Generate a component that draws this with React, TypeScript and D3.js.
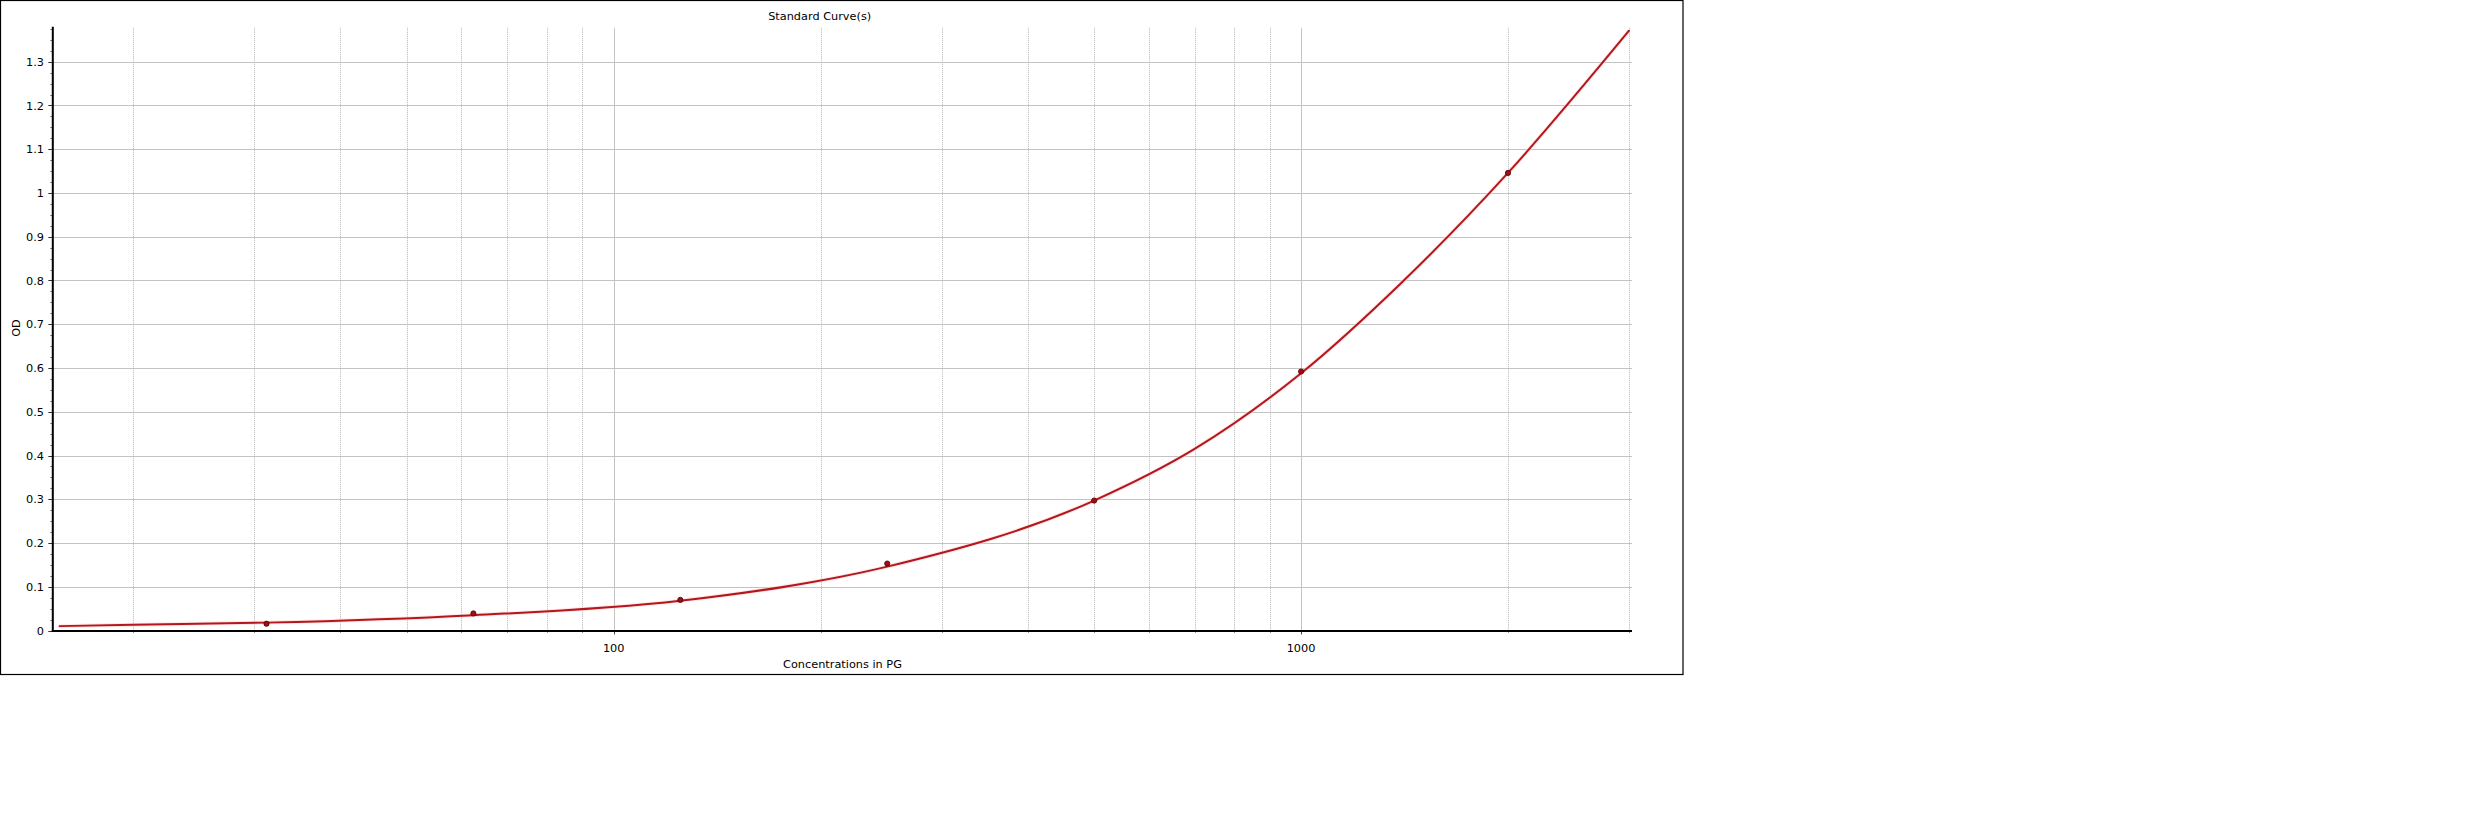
import React from "react";
import * as d3 from "d3";

// Standards (measured points)
const concentrations = [31.25, 62.5, 125, 250, 500, 1000, 2000];
const odValues = [0.0155, 0.039, 0.07, 0.153, 0.297, 0.592, 1.046];

// Fitted standard curve
const curveConc = [15.625, 20, 31.25, 62.5, 125, 250, 500, 700, 1000, 1400, 2000, 3000];
const curveOD = [0.01, 0.013, 0.018, 0.035, 0.068, 0.146, 0.297, 0.415, 0.588, 0.795, 1.046, 1.371];

// Axes
const yTicks = [0, 0.1, 0.2, 0.3, 0.4, 0.5, 0.6, 0.7, 0.8, 0.9, 1, 1.1, 1.2, 1.3];
const xTickLabels = [100, 1000];
const xGrid = [20, 30, 40, 50, 60, 70, 80, 90, 100, 200, 300, 400, 500, 600, 700, 800, 900, 1000, 2000, 3000];
const xMajor = [100, 1000];

const title = "Standard Curve(s)";
const xTitle = "Concentrations in PG";
const yTitle = "OD";

const W = 2468;
const H = 824;
const FONT = "'DejaVu Sans', Verdana, sans-serif";
const FS = 11.3;

export default function App() {
  const x = d3.scaleLog().domain([15.3, 3030]).range([53.3, 1632]);
  const y = d3.scaleLinear().domain([0, 1.38]).range([630.5, 26.75]);
  const [x0, x1] = x.range();
  const [yb, yt] = y.range();

  const minorY = d3.range(0, 1.3801, 0.025);

  const curvePts = curveConc.map((c, i) => [x(c), y(curveOD[i])] as [number, number]);
  const linePath = d3.line().curve(d3.curveMonotoneX)(curvePts) || "";

  return (
    <svg
      width={W}
      height={H}
      style={{ position: "absolute", left: 0, top: 0, background: "#fff" }}
      fontFamily={FONT}
      fontSize={FS}
    >
      <rect x={0.5} y={0.5} width={1682.5} height={674} fill="#fff" stroke="#000" strokeWidth={1.2} />

      {/* horizontal grid */}
      {yTicks.filter((t) => t > 0).map((t) => (
        <line key={"hg" + t} x1={x0} x2={x1} y1={Math.round(y(t)) + 0.5} y2={Math.round(y(t)) + 0.5} stroke="#c3c3c3" strokeWidth={1} />
      ))}

      {/* vertical grid */}
      {xGrid.map((g) => {
        const major = xMajor.includes(g);
        const px = Math.round(x(g)) + 0.5;
        return (
          <line
            key={"vg" + g}
            x1={px}
            x2={px}
            y1={yt + 1}
            y2={yb}
            stroke={major ? "#c3c3c3" : "#b4b4b4"}
            strokeWidth={1}
            strokeDasharray={major ? undefined : "1,1"}
          />
        );
      })}

      {/* x ticks */}
      {xGrid.map((g) => {
        const major = xMajor.includes(g);
        const px = Math.round(x(g)) + 0.5;
        return <line key={"xt" + g} x1={px} x2={px} y1={yb} y2={yb + (major ? 4 : 2.5)} stroke={major ? "#444" : "#999"} strokeWidth={1} />;
      })}

      {/* y minor ticks */}
      {minorY.map((m, i) => (
        <line key={"ym" + i} x1={x0 - 3} x2={x0} y1={Math.round(y(m)) + 0.5} y2={Math.round(y(m)) + 0.5} stroke="#777" strokeWidth={1} />
      ))}
      {/* y major ticks */}
      {yTicks.map((t) => (
        <line key={"yt" + t} x1={x0 - 5} x2={x0} y1={Math.round(y(t)) + 0.5} y2={Math.round(y(t)) + 0.5} stroke="#333" strokeWidth={1} />
      ))}

      {/* y tick labels */}
      {yTicks.map((t) => (
        <text key={"yl" + t} x={44} y={y(t)} dy="0.36em" textAnchor="end" fill="#000">
          {d3.format("~g")(t)}
        </text>
      ))}

      {/* x tick labels */}
      {xTickLabels.map((t) => (
        <text key={"xl" + t} x={x(t)} y={651.5} textAnchor="middle" fill="#000">
          {String(t)}
        </text>
      ))}

      {/* axes */}
      <line x1={x0 - 0.5} x2={x0 - 0.5} y1={yt} y2={yb + 1} stroke="#000" strokeWidth={2} />
      <line x1={x0 - 1.5} x2={x1} y1={yb + 0.5} y2={yb + 0.5} stroke="#000" strokeWidth={2} />

      {/* curve */}
      <path d={linePath} fill="none" stroke="#ffd6d6" strokeWidth={4} strokeLinejoin="round" opacity={0.6} />
      <path d={linePath} fill="none" stroke="#b3161c" strokeWidth={2} strokeLinejoin="round" strokeLinecap="round" />

      {/* standards */}
      {concentrations.map((c, i) => (
        <circle key={"pt" + c} cx={x(c)} cy={y(odValues[i])} r={2.6} fill="#a10e14" stroke="#4a0000" strokeWidth={0.8} />
      ))}

      {/* titles */}
      <text x={819.7} y={19.5} textAnchor="middle" fill="#000">{title}</text>
      <text x={842.5} y={668} textAnchor="middle" fill="#000">{xTitle}</text>
      <text transform={`translate(19.5,328) rotate(-90)`} textAnchor="middle" fill="#000">{yTitle}</text>
    </svg>
  );
}
